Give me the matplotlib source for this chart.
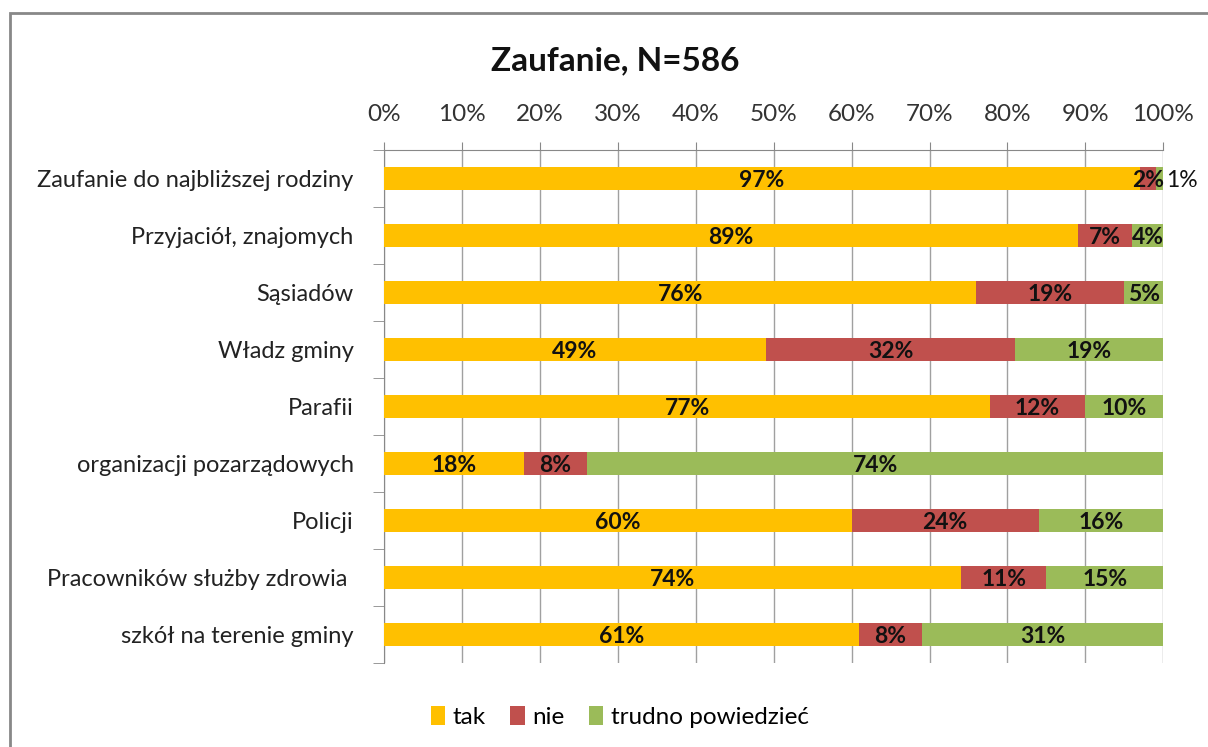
import matplotlib

matplotlib.use("Agg")
import matplotlib.pyplot as plt
import numpy as np
from matplotlib.patches import Rectangle

plt.rcParams["font.family"] = ["Lato", "DejaVu Sans"]

categories = [
    "Zaufanie do najbliższej rodziny",
    "Przyjaciół, znajomych",
    "Sąsiadów",
    "Władz gminy",
    "Parafii",
    "organizacji pozarządowych",
    "Policji",
    "Pracowników służby zdrowia ",
    "szkół na terenie gminy",
]
tak = [97, 89, 76, 49, 77, 18, 60, 74, 61]
nie = [2, 7, 19, 32, 12, 8, 24, 11, 8]
trudno = [1, 4, 5, 19, 10, 74, 16, 15, 31]
series_names = ["tak", "nie", "trudno powiedzieć"]
colors = ["#FFC000", "#C0504D", "#9BBB59"]

vals = np.array([tak, nie, trudno], dtype=float)
shares = vals / vals.sum(axis=0) * 100  # wykres 100% skumulowany

fig = plt.figure(figsize=(12.08, 7.47), dpi=100)
ax = fig.add_axes([0.318, 0.1124, 0.645, 0.6867])

y = np.arange(len(categories))
left = np.zeros(len(categories))
for i, (name, col) in enumerate(zip(series_names, colors)):
    ax.barh(y, shares[i], left=left, height=0.39, color=col, label=name, zorder=3)
    for j in range(len(categories)):
        v = int(vals[i, j])
        cx = left[j] + shares[i, j] / 2
        if v <= 1:
            # za mała etykieta -> obok słupka
            ax.text(100.4, y[j] + 0.04, f"{v}%", ha="left", va="center",
                    fontsize=16.5, color="#111111", zorder=4)
        else:
            ax.text(cx, y[j] + 0.04, f"{v}%", ha="center", va="center",
                    fontsize=16.5, fontweight="bold", color="#111111", zorder=4)
    left += shares[i]

ax.set_xlim(0, 100)
ax.set_ylim(len(categories) - 0.5, -0.5)
ax.set_xticks(np.arange(0, 101, 10))
ax.set_xticklabels([f"{t}%" for t in range(0, 101, 10)], fontsize=17.5, color="#333333")
ax.xaxis.tick_top()
ax.tick_params(axis="x", length=6, color="#888888", pad=12)
ax.set_yticks(y)
ax.set_yticklabels(categories, fontsize=17, color="#222222")
ax.tick_params(axis="y", length=0, pad=22)
ax.set_yticks(np.arange(-0.5, len(categories), 1), minor=True)
ax.tick_params(axis="y", which="minor", length=8, color="#888888")
ax.grid(axis="x", color="#A0A0A0", linewidth=1.0, zorder=0)
for s in ("right", "bottom"):
    ax.spines[s].set_visible(False)
for s in ("left", "top"):
    ax.spines[s].set_color("#888888")

fig.text(0.509, 0.918, "Zaufanie, N=586", ha="center", va="center",
         fontsize=24, fontweight="bold", color="#111111")

handles, labels = ax.get_legend_handles_labels()
fig.legend(handles, labels, loc="center", bbox_to_anchor=(0.513, 0.04), ncol=3,
           frameon=False, fontsize=17.5, handlelength=0.6, handleheight=0.8,
           handletextpad=0.3, columnspacing=1.0)

fig.patches.append(Rectangle((10 / 1208, -0.01), 1.02, 1.01 - 13 / 747,
                             transform=fig.transFigure, fill=False,
                             edgecolor="#888888", linewidth=2))

fig.savefig("out.png", dpi=100)
